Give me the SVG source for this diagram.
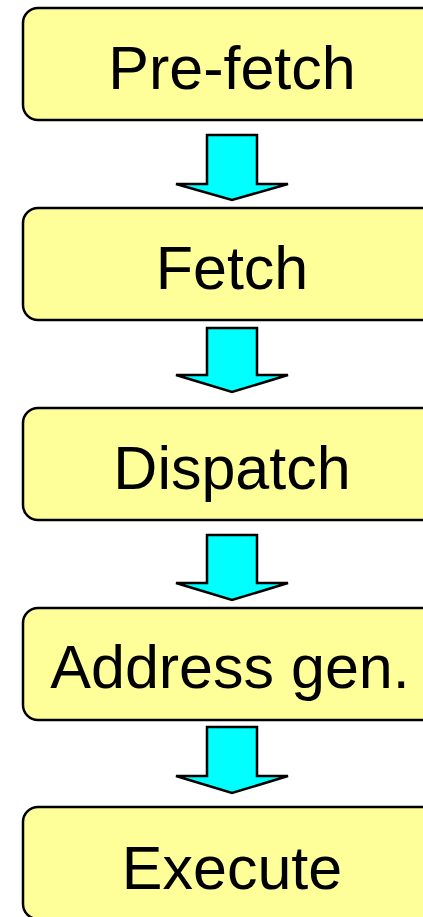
<svg xmlns="http://www.w3.org/2000/svg" width="423" height="917" viewBox="0 0 423 917">
<style>
.box{fill:#FFFF99;stroke:#000;stroke-width:2.5}
.lbl{font-family:"Liberation Sans",Arial,sans-serif;font-size:61px;fill:#000;text-anchor:middle}
.arr{fill:#00FFFF;stroke:#000;stroke-width:2.5;stroke-linejoin:miter}
</style>
<rect width="423" height="917" fill="#fff"/>
<g id="prefetch"><rect class="box" x="23" y="8" width="420" height="112" rx="15"/><text class="lbl" x="232" y="89">Pre-fetch</text></g>
<g id="fetch"><rect class="box" x="23" y="208" width="420" height="112" rx="15"/><text class="lbl" x="232" y="289">Fetch</text></g>
<g id="dispatch"><rect class="box" x="23" y="408" width="420" height="112" rx="15"/><text class="lbl" x="232" y="489">Dispatch</text></g>
<g id="addrgen"><rect class="box" x="23" y="608" width="420" height="112" rx="15"/><text class="lbl" x="230" y="688">Address gen.</text></g>
<g id="execute"><rect class="box" x="23" y="807" width="420" height="112" rx="15"/><text class="lbl" x="232" y="889">Execute</text></g>
<g id="connectors">
<path class="arr" d="M207,135 H257 V184 H288 L232,200 L176,184 H207 Z"/>
<path class="arr" d="M207,328 H257 V375 H288 L232,392 L176,375 H207 Z"/>
<path class="arr" d="M207,535 H257 V583 H288 L232,600 L176,583 H207 Z"/>
<path class="arr" d="M207,727 H257 V776 H288 L232,793 L176,776 H207 Z"/>
</g>
</svg>
